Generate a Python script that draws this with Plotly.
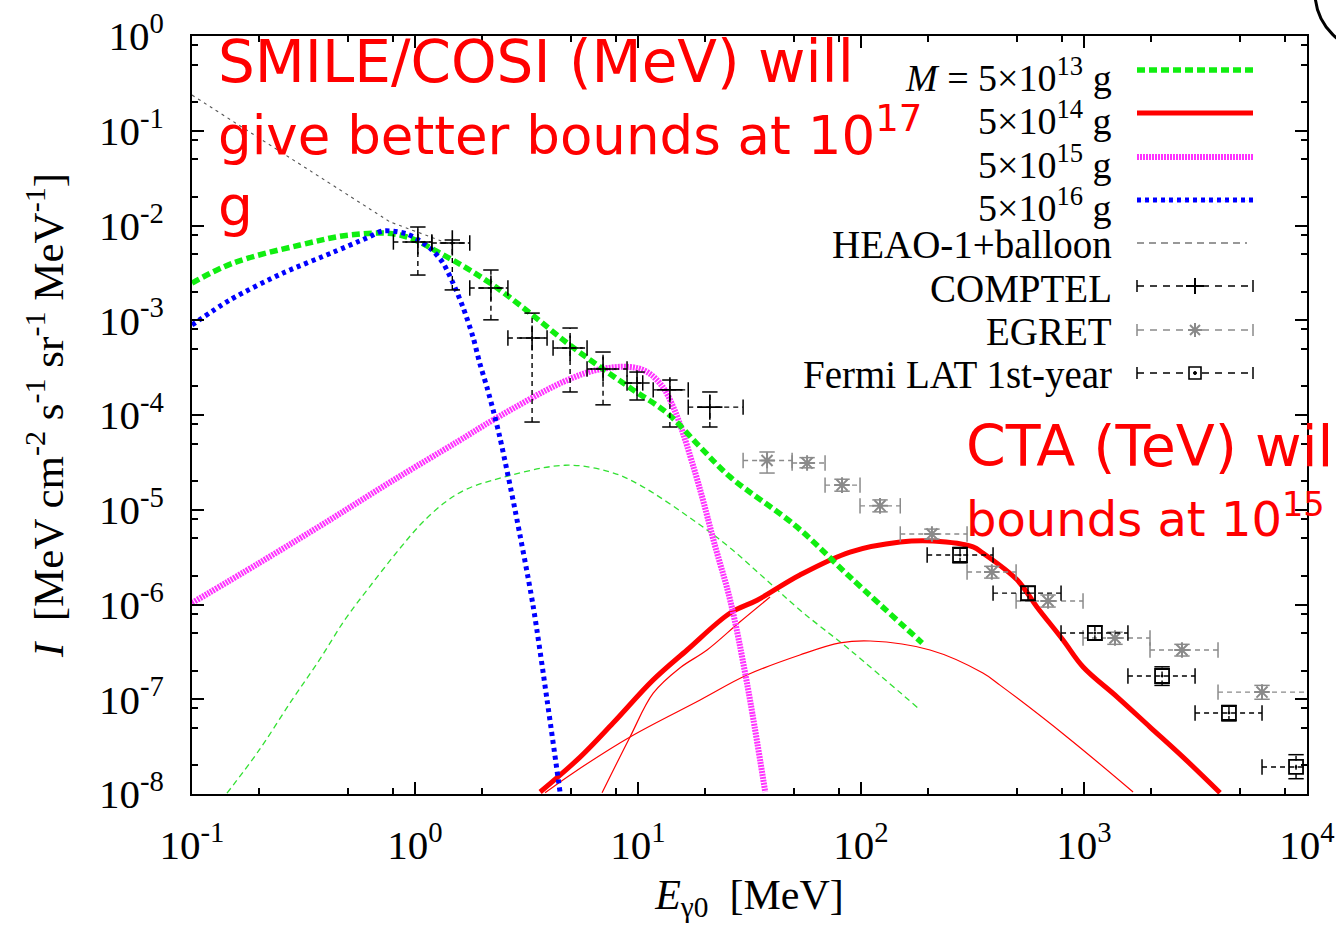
import plotly.graph_objects as go

# ---------------- data ----------------
# M = 5x10^13 g : primary (thick dashed) and secondary (thin dashed) components
g13_E = [0.100, 0.153, 0.305, 0.512, 0.857, 1.39, 2.17, 3.28, 4.81, 6.76, 9.51, 13.5, 19.0, 25.9, 51.6, 89.3, 188]
g13_I = [2.47e-3, 4.02e-3, 6.22e-3, 7.94e-3, 7.94e-3, 4.66e-3, 2.47e-3, 1.19e-3, 5.75e-4, 3.21e-4,
         1.84e-4, 1.05e-4, 4.59e-5, 2.22e-5, 6.58e-6, 1.95e-6, 3.93e-7]
g13b_E = [0.1435, 0.1995, 0.2805, 0.3715, 0.485, 0.622, 0.847, 1.074, 1.365, 1.675, 2.213, 4.71,
          7.48, 10.2, 19.0, 25.9, 36.4, 53.2, 89.3, 180]
g13b_I = [1.02e-8, 2.88e-8, 9.77e-8, 2.57e-7, 6.92e-7, 1.51e-6, 3.80e-6, 7.24e-6, 1.20e-5, 1.62e-5,
          2.04e-5, 2.95e-5, 2.51e-5, 1.82e-5, 6.90e-6, 3.95e-6, 1.95e-6, 8.75e-7, 3.31e-7, 8.09e-8]

# M = 5x10^14 g : total (thick) and two components (thin)
g14_E = [3.64, 5.50, 7.73, 11.7, 16.6, 25.9, 34.2, 53.2, 89.3, 150, 210, 318, 352, 501, 615, 805,
         991, 1406, 1977, 2780, 4074]
g14_I = [1.05e-8, 2.45e-8, 5.61e-8, 1.60e-7, 3.31e-7, 8.13e-7, 1.11e-6, 2.05e-6, 3.58e-6, 4.57e-6,
         4.68e-6, 4.05e-6, 3.49e-6, 1.82e-6, 9.42e-7, 4.22e-7, 2.19e-7, 1.06e-7, 5.09e-8, 2.45e-8, 1.03e-8]
g14a_E = [6.90, 9.21, 11.7, 15.4, 20.4, 28.6, 39.1]
g14a_I = [1.03e-8, 4.00e-8, 1.16e-7, 2.14e-7, 3.31e-7, 6.53e-7, 1.20e-6]
g14b_E = [3.83, 5.12, 9.21, 19.0, 30.8, 53.2, 80.5, 110, 204, 352, 420, 839, 1660]
g14b_I = [1.03e-8, 1.67e-8, 4.00e-8, 9.82e-8, 1.80e-7, 2.93e-7, 3.93e-7, 4.12e-7, 3.31e-7, 1.89e-7,
          1.41e-7, 4.00e-8, 1.05e-8]

# M = 5x10^15 g
g15_E = [0.100, 0.200, 0.394, 0.789, 1.57, 2.24, 4.61, 6.55, 9.21, 11.0, 12.9, 14.4, 15.9, 19.0,
         22.1, 25.9, 30.8, 37.2]
g15_I = [1.04e-6, 2.74e-6, 7.24e-6, 2.01e-5, 5.32e-5, 8.86e-5, 2.23e-4, 2.99e-4, 3.21e-4, 2.84e-4,
         1.98e-4, 1.21e-4, 6.46e-5, 1.62e-5, 4.25e-6, 1.11e-6, 1.49e-7, 1.05e-8]

# M = 5x10^16 g
g16_E = [0.100, 0.148, 0.256, 0.428, 0.609, 0.719, 0.921, 1.167, 1.336, 1.48, 1.64, 1.82, 1.95,
         2.10, 2.24, 2.40, 2.81, 3.38, 3.91, 4.47]
g16_I = [8.91e-4, 1.64e-3, 3.15e-3, 5.2e-3, 7.4e-3, 8.75e-3, 8.13e-3, 5.79e-3, 4.02e-3, 2.47e-3,
         1.38e-3, 6.65e-4, 3.54e-4, 1.98e-4, 1.13e-4, 5.86e-5, 9.93e-6, 9.89e-7, 9.82e-8, 1.05e-8]

# HEAO-1 + balloon fit
heao_E = [0.100, 0.773, 1.47]
heao_I = [0.238, 1.09e-2, 6.22e-3]

# COMPTEL
comptel_E = [1.03, 1.47, 2.19, 3.35, 4.96, 6.97, 9.90, 13.9, 21.0]
comptel_Elo = [0.80, 1.19, 1.76, 2.61, 4.16, 5.91, 8.93, 11.7, 16.8]
comptel_Ehi = [1.19, 1.76, 2.61, 3.91, 5.91, 8.93, 10.5, 16.8, 29.6]
comptel_I = [6.70e-3, 6.54e-3, 2.19e-3, 6.50e-4, 5.09e-4, 3.06e-4, 2.18e-4, 1.84e-4, 1.21e-4]
comptel_Ihi = [9.64e-3, 7.03e-3, 3.39e-3, 1.19e-3, 8.28e-4, 4.62e-4, 2.84e-4, 2.34e-4, 1.75e-4]
comptel_Ilo = [3.00e-3, 2.09e-3, 1.01e-3, 8.43e-5, 1.75e-4, 1.28e-4, 1.44e-4, 7.47e-5, 7.47e-5]

# EGRET
egret_E = [37.9, 57.3, 82.2, 121.7, 208, 386, 690, 1377, 2750, 6285]
egret_Elo = [29.6, 49.1, 69.0, 99.0, 150, 299, 496, 990, 1977, 3990]
egret_Ehi = [49.1, 69.0, 99.0, 150, 299, 496, 990, 1977, 3990, 12680]
egret_I = [3.31e-5, 3.11e-5, 1.82e-5, 1.10e-5, 5.55e-6, 2.20e-6, 1.09e-6, 4.43e-7, 3.31e-7, 1.19e-7]
egret_Ihi = [4.07e-5, 3.55e-5, 2.10e-5, 1.27e-5, 6.25e-6, 2.53e-6, 1.26e-6, 5.1e-7, 3.8e-7, 1.4e-7]
egret_Ilo = [2.44e-5, 2.77e-5, 1.57e-5, 9.5e-6, 4.9e-6, 1.90e-6, 9.4e-7, 3.8e-7, 2.86e-7, 1.0e-7]

# Fermi LAT 1st-year
fermi_E = [278, 561, 1119, 2239, 4467, 8930]
fermi_Elo = [198, 391, 789, 1574, 3148, 6285]
fermi_Ehi = [391, 789, 1574, 3148, 6285, 12680]
fermi_I = [3.33e-6, 1.32e-6, 5.0e-7, 1.76e-7, 7.16e-8, 1.93e-8]
fermi_Ihi = [4.0e-6, 1.55e-6, 5.9e-7, 2.2e-7, 8.6e-8, 2.6e-8]
fermi_Ilo = [2.75e-6, 1.1e-6, 4.2e-7, 1.4e-7, 5.9e-8, 1.45e-8]

# axis ticks
x_major = [1e-1, 1e0, 1e1, 1e2, 1e3, 1e4]
x_labels = ['10<sup>-1</sup>', '10<sup>0</sup>', '10<sup>1</sup>', '10<sup>2</sup>', '10<sup>3</sup>', '10<sup>4</sup>']
y_major = [1e-8, 1e-7, 1e-6, 1e-5, 1e-4, 1e-3, 1e-2, 1e-1, 1e0]
y_labels = ['10<sup>-8</sup>', '10<sup>-7</sup>', '10<sup>-6</sup>', '10<sup>-5</sup>', '10<sup>-4</sup>',
            '10<sup>-3</sup>', '10<sup>-2</sup>', '10<sup>-1</sup>', '10<sup>0</sup>']
minor_mult = [2, 5, 8]

legend_labels = ['<i>M</i> = 5×10<sup>13</sup> g', '5×10<sup>14</sup> g', '5×10<sup>15</sup> g',
                 '5×10<sup>16</sup> g', 'HEAO-1+balloon', 'COMPTEL', 'EGRET', 'Fermi LAT 1st-year']

# ---------------- styling ----------------
GREEN = '#10ee10'
GREEN_T = '#33e033'
RED = '#ff0000'
MAGENTA = '#ff33ff'
BLUE = '#0000ff'
GREY = '#8a8a8a'
SERIF = 'Liberation Serif'

# plot-area pixel geometry (for layout helpers only)
PX0, PX1, PY0, PY1 = 192, 1307, 36, 794
W, H = 1336, 933


def fx(px):
    return (px - PX0) / (PX1 - PX0)


def fy(py):
    return (PY1 - py) / (PY1 - PY0)


fig = go.Figure()


def curve(E, I, color, width, dash, smooth=1.0):
    fig.add_trace(go.Scatter(x=E, y=I, mode='lines',
                             line=dict(color=color, width=width, dash=dash, shape='spline', smoothing=smooth),
                             hoverinfo='skip', showlegend=False))


def errdata(E, I, Elo, Ehi, Ilo, Ihi, color, symbol, msize, mwidth):
    hx, hy, vx, vy = [], [], [], []
    for e, i, a, b, lo, hi in zip(E, I, Elo, Ehi, Ilo, Ihi):
        hx += [a, b, None]
        hy += [i, i, None]
        vx += [e, e, None]
        vy += [lo, hi, None]
    dash = '5px,4px'
    fig.add_trace(go.Scatter(x=hx, y=hy, mode='lines', line=dict(color=color, width=1.4, dash=dash),
                             hoverinfo='skip', showlegend=False))
    fig.add_trace(go.Scatter(x=vx, y=vy, mode='lines', line=dict(color=color, width=1.4, dash=dash),
                             hoverinfo='skip', showlegend=False))
    fig.add_trace(go.Scatter(x=list(Elo) + list(Ehi), y=list(I) + list(I), mode='markers',
                             marker=dict(symbol='line-ns', size=11, line=dict(color=color, width=1.5)),
                             hoverinfo='skip', showlegend=False))
    fig.add_trace(go.Scatter(x=list(E) + list(E), y=list(Ilo) + list(Ihi), mode='markers',
                             marker=dict(symbol='line-ew', size=11, line=dict(color=color, width=1.5)),
                             hoverinfo='skip', showlegend=False))
    fig.add_trace(go.Scatter(x=E, y=I, mode='markers',
                             marker=dict(symbol=symbol, size=msize, color=color,
                                         line=dict(color=color, width=mwidth)),
                             hoverinfo='skip', showlegend=False))


# curves (drawing order as in the reference)
curve(g13b_E, g13b_I, GREEN_T, 1.3, '6px,4px')
curve(g14b_E, g14b_I, RED, 1.2, 'solid')
curve(g14a_E, g14a_I, RED, 1.2, 'solid')
curve(g14_E, g14_I, RED, 5, 'solid')
curve(g15_E, g15_I, MAGENTA, 6, '2px,1px')
curve(g13_E, g13_I, GREEN, 5.5, '8px,4px')
curve(g16_E, g16_I, BLUE, 5, '4px,4px', smooth=0.8)
curve(heao_E, heao_I, '#555555', 1.1, '3px,4px', smooth=0)

# data points
errdata(comptel_E, comptel_I, comptel_Elo, comptel_Ehi, comptel_Ilo, comptel_Ihi,
        'black', 'cross-thin-open', 18, 1.6)
errdata(egret_E, egret_I, egret_Elo, egret_Ehi, egret_Ilo, egret_Ihi,
        GREY, 'asterisk-open', 13, 2)
errdata(fermi_E, fermi_I, fermi_Elo, fermi_Ehi, fermi_Ilo, fermi_Ihi,
        'black', 'square-open-dot', 14, 1.8)

# ---------------- axes ----------------
x_minor = [m * d for d in [1e-1, 1e0, 1e1, 1e2, 1e3] for m in minor_mult]
y_minor = [m * d for d in [1e-8, 1e-7, 1e-6, 1e-5, 1e-4, 1e-3, 1e-2, 1e-1] for m in minor_mult]

axis_common = dict(type='log', showgrid=False, zeroline=False, showline=True, linecolor='black',
                   linewidth=2, mirror='ticks', ticks='inside', ticklen=12, tickwidth=1.5,
                   tickcolor='black', tickmode='array', automargin=False,
                   tickfont=dict(family=SERIF, size=41, color='black'))

fig.update_xaxes(**axis_common, range=[-1, 4], tickvals=x_major, ticktext=x_labels,
                 ticklabelstandoff=14,
                 minor=dict(tickmode='array', tickvals=x_minor, ticks='inside', ticklen=6,
                            tickwidth=1.5, tickcolor='black', showgrid=False),
                 title=dict(text='<i>E</i><sub>γ0</sub>\u2002[MeV]', standoff=12,
                            font=dict(family=SERIF, size=42, color='black')))
fig.update_yaxes(**axis_common, range=[-8, 0], tickvals=y_major, ticktext=y_labels,
                 ticklabelstandoff=18,
                 minor=dict(tickmode='array', tickvals=y_minor, ticks='inside', ticklen=6,
                            tickwidth=1.5, tickcolor='black', showgrid=False),
                 title=dict(text='<i>I</i>\u2002[MeV cm<sup>-2</sup> s<sup>-1</sup> sr<sup>-1</sup> MeV<sup>-1</sup>]',
                            standoff=22, font=dict(family=SERIF, size=43, color='black')))

# ---------------- manual legend ----------------
annotations = []
shapes = []
row_y = [70, 113, 157, 200, 243, 286, 330, 373]
LX0, LX1, LXM = 1137, 1253, 1195
for k, (lab, ly) in enumerate(zip(legend_labels, row_y)):
    annotations.append(dict(xref='paper', yref='paper', x=fx(1114), y=fy(ly + (5 if k < 4 else 2)),
                            xanchor='right', yanchor='middle', showarrow=False, text=lab,
                            font=dict(family=SERIF, size=(38 if k < 4 else 39), color='black')))

sample_styles = [(GREEN, 5.5, '8px,4px'), (RED, 5, 'solid'), (MAGENTA, 6, '2px,1px'), (BLUE, 5, '4px,4px')]
for (c, w, d), ly in zip(sample_styles, row_y[:4]):
    shapes.append(dict(type='line', xref='paper', yref='paper', x0=fx(LX0), x1=fx(LX1), y0=fy(ly), y1=fy(ly),
                       line=dict(color=c, width=w, dash=d)))
# HEAO sample
shapes.append(dict(type='line', xref='paper', yref='paper', x0=fx(LX0), x1=fx(1247), y0=fy(243), y1=fy(243),
                   line=dict(color='#333333', width=1.1, dash='7px,5px')))
# error-bar samples
for ly, c in zip(row_y[5:], ['black', GREY, 'black']):
    shapes.append(dict(type='line', xref='paper', yref='paper', x0=fx(LX0), x1=fx(LX1), y0=fy(ly), y1=fy(ly),
                       line=dict(color=c, width=1.4, dash='7px,6px')))
    for xx in (LX0, LX1):
        shapes.append(dict(type='line', xref='paper', yref='paper', x0=fx(xx), x1=fx(xx), y0=fy(ly - 6),
                           y1=fy(ly + 6), line=dict(color=c, width=1.5)))
# COMPTEL "+"
shapes.append(dict(type='line', xref='paper', yref='paper', x0=fx(LXM - 9), x1=fx(LXM + 9), y0=fy(286), y1=fy(286),
                   line=dict(color='black', width=2)))
shapes.append(dict(type='line', xref='paper', yref='paper', x0=fx(LXM), x1=fx(LXM), y0=fy(278), y1=fy(294),
                   line=dict(color='black', width=2)))
# EGRET asterisk
for dx, dy in [(0, 7), (7, 0), (5, 5), (5, -5)]:
    shapes.append(dict(type='line', xref='paper', yref='paper', x0=fx(LXM - dx), x1=fx(LXM + dx),
                       y0=fy(330 - dy), y1=fy(330 + dy), line=dict(color=GREY, width=2)))
# Fermi square with dot
shapes.append(dict(type='rect', xref='paper', yref='paper', x0=fx(LXM - 6), x1=fx(LXM + 6), y0=fy(379), y1=fy(367),
                   line=dict(color='black', width=1.6), fillcolor='white'))
shapes.append(dict(type='circle', xref='paper', yref='paper', x0=fx(LXM - 1.5), x1=fx(LXM + 1.5), y0=fy(374.5),
                   y1=fy(371.5), line=dict(color='black', width=1), fillcolor='black'))

# partial circle at top-right corner (slide decoration)
shapes.append(dict(type='circle', xref='paper', yref='paper', x0=fx(1315), x1=fx(1435), y0=fy(52), y1=fy(-68),
                   line=dict(color='black', width=3)))

# red slide annotations
RED_FONT = 'DejaVu Sans'
annotations.append(dict(xref='paper', yref='paper', x=fx(216), y=fy(26), xanchor='left', yanchor='top',
                        align='left', showarrow=False,
                        text=('<span style="font-size:58px">SMILE/COSI (MeV) will</span><br>'
                              '<span style="font-size:53px">give better bounds at 10<sup>17</sup></span><br>'
                              'g'),
                        font=dict(family=RED_FONT, size=55, color='red')))
annotations.append(dict(xref='paper', yref='paper', x=fx(964), y=fy(411), xanchor='left', yanchor='top',
                        align='left', showarrow=False,
                        text=('<span style="font-size:57px">CTA (TeV) will</span><br>'
                              '<span style="font-size:48px">bounds at 10<sup>15</sup></span>'),
                        font=dict(family=RED_FONT, size=54, color='red')))

fig.update_layout(width=W, height=H, autosize=False,
                  margin=dict(l=PX0, r=W - PX1, t=PY0, b=H - PY1, pad=0, autoexpand=False),
                  paper_bgcolor='white', plot_bgcolor='white', showlegend=False,
                  annotations=annotations, shapes=shapes)

fig.write_html('out.html')
